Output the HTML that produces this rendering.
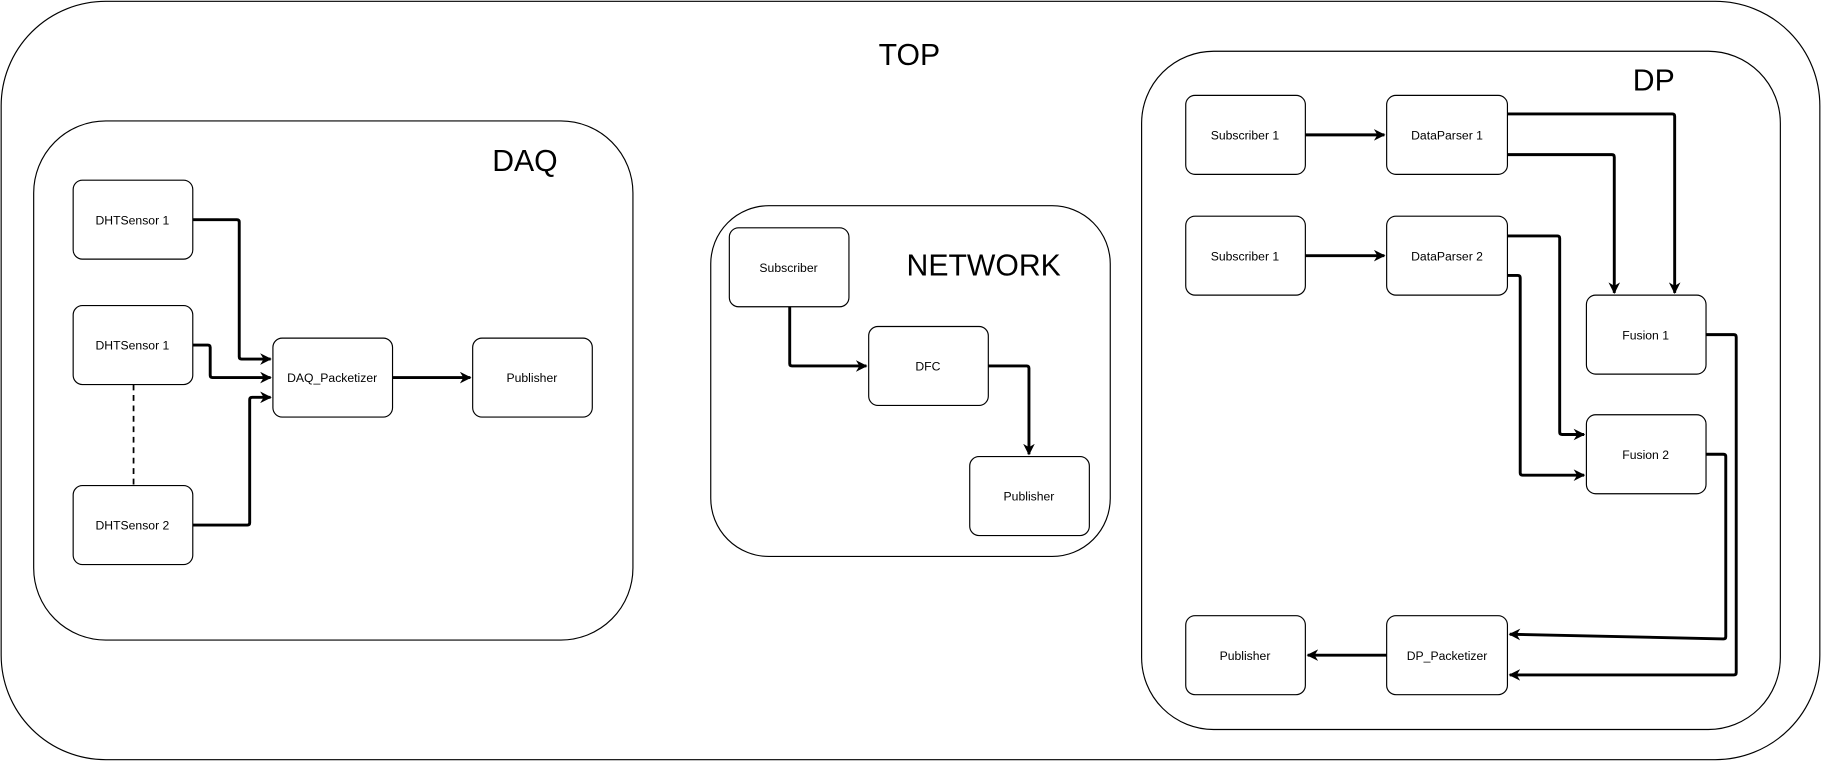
<!DOCTYPE html>
<html><head><meta charset="utf-8"><style>html,body{margin:0;padding:0;background:#fff}svg{display:block}</style></head>
<body>
<svg width="1821" height="761" viewBox="0 0 1568 655" xmlns="http://www.w3.org/2000/svg" font-family="Liberation Sans, sans-serif">
<defs><marker id="a" markerWidth="10" markerHeight="10" refX="9" refY="5" orient="auto" markerUnits="userSpaceOnUse"><path d="M0,0 L10,5 L0,10 L3,5 Z" fill="#000"/></marker></defs>
<g fill="#fff" stroke="#000" stroke-width="1">
<rect x="1" y="1" width="1566" height="653" rx="90"/>
<rect x="29" y="104" width="516" height="447" rx="62"/>
<rect x="612" y="177" width="344" height="302" rx="50"/>
<rect x="983" y="44" width="550" height="584" rx="62"/>
</g>
<g font-size="26" text-anchor="middle">
<text x="783" y="56">TOP</text><text x="452" y="147">DAQ</text><text x="847" y="237">NETWORK</text><text x="1424" y="78">DP</text>
</g>
<g fill="none" stroke="#000" stroke-width="2.5" stroke-linejoin="round">
<path d="M166,189 H204 Q206,189 206,191 V307 Q206,309 208,309 H233" marker-end="url(#a)"/>
<path d="M166,297 H179 Q181,297 181,299 V323 Q181,325 183,325 H233" marker-end="url(#a)"/>
<path d="M166,452 H213 Q215,452 215,450 V344 Q215,342 217,342 H233" marker-end="url(#a)"/>
<path d="M338,325 H405" marker-end="url(#a)"/>
<path d="M680,264 V313 Q680,315 682,315 H746" marker-end="url(#a)"/>
<path d="M851,315 H884 Q886,315 886,317 V391" marker-end="url(#a)"/>
<path d="M1124,116 H1192" marker-end="url(#a)"/>
<path d="M1124,220 H1192" marker-end="url(#a)"/>
<path d="M1298,98 H1440 Q1442,98 1442,100 V252" marker-end="url(#a)"/>
<path d="M1298,133 H1388 Q1390,133 1390,135 V252" marker-end="url(#a)"/>
<path d="M1298,203 H1341 Q1343,203 1343,205 V372 Q1343,374 1345,374 H1364" marker-end="url(#a)"/>
<path d="M1298,237 H1307 Q1309,237 1309,239 V407 Q1309,409 1311,409 H1364" marker-end="url(#a)"/>
<path d="M1469,288 H1493 Q1495,288 1495,290 V579 Q1495,581 1493,581 H1300" marker-end="url(#a)"/>
<path d="M1469,391 H1484 Q1486,391 1486,393 V548 Q1486,550 1484,550 L1300,546" marker-end="url(#a)"/>
<path d="M1194,564 H1126" marker-end="url(#a)"/>
</g>
<path d="M115,331 V418" stroke="#000" stroke-width="1.5" stroke-dasharray="5,4"/>
<g fill="#fff" stroke="#000" stroke-width="1">
<rect x="63" y="155" width="103" height="68" rx="8"/>
<rect x="63" y="263" width="103" height="68" rx="8"/>
<rect x="63" y="418" width="103" height="68" rx="8"/>
<rect x="235" y="291" width="103" height="68" rx="8"/>
<rect x="407" y="291" width="103" height="68" rx="8"/>
<rect x="628" y="196" width="103" height="68" rx="8"/>
<rect x="748" y="281" width="103" height="68" rx="8"/>
<rect x="835" y="393" width="103" height="68" rx="8"/>
<rect x="1021" y="82" width="103" height="68" rx="8"/>
<rect x="1194" y="82" width="104" height="68" rx="8"/>
<rect x="1021" y="186" width="103" height="68" rx="8"/>
<rect x="1194" y="186" width="104" height="68" rx="8"/>
<rect x="1366" y="254" width="103" height="68" rx="8"/>
<rect x="1366" y="357" width="103" height="68" rx="8"/>
<rect x="1021" y="530" width="103" height="68" rx="8"/>
<rect x="1194" y="530" width="104" height="68" rx="8"/>
</g>
<g font-size="10.5" text-anchor="middle">
<text x="114" y="193">DHTSensor 1</text>
<text x="114" y="301">DHTSensor 1</text>
<text x="114" y="456">DHTSensor 2</text>
<text x="286" y="329">DAQ_Packetizer</text>
<text x="458" y="329">Publisher</text>
<text x="679" y="234">Subscriber</text>
<text x="799" y="319">DFC</text>
<text x="886" y="431">Publisher</text>
<text x="1072" y="120">Subscriber 1</text>
<text x="1246" y="120">DataParser 1</text>
<text x="1072" y="224">Subscriber 1</text>
<text x="1246" y="224">DataParser 2</text>
<text x="1417" y="292">Fusion 1</text>
<text x="1417" y="395">Fusion 2</text>
<text x="1072" y="568">Publisher</text>
<text x="1246" y="568">DP_Packetizer</text>
</g>
</svg>
</body></html>
